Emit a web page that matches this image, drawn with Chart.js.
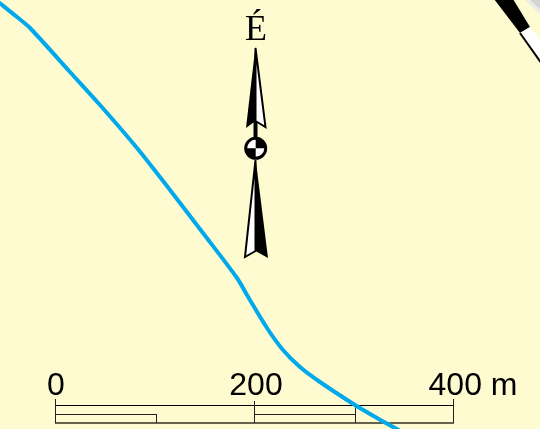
<!DOCTYPE html>
<html>
<head>
<meta charset="utf-8">
<title>Térkép</title>
<script src="https://cdn.jsdelivr.net/npm/chart.js@4/dist/chart.umd.min.js"></script>
<style>
  html, body { margin: 0; padding: 0; background: #fffbd0; }
  canvas { display: block; }
</style>
</head>
<body>
<canvas id="map" width="540" height="429"></canvas>
<script>
// river course, map units
const riverX = [-4, 17, 30, 70, 100, 137, 170, 203, 237, 247, 267, 283, 300, 320, 355, 377, 402];
const riverY = [0, 17, 28, 72, 105, 148, 190, 233, 278, 295, 328, 350, 367, 382, 405, 418, 432];

// scale bar
const scaleTicks = [0, 200, 400];
const scaleLabels = ['0', '200', '400 m'];
const scaleLabelX = [56, 256, 473];
const barTopLine = [[55, 405.5], [454, 405.5]];
const barBottomLine = [[55, 423], [454, 423]];
const barMidLeft = [[55, 414.5], [156, 414.5]];
const barMidRight = [[254, 414.5], [355, 414.5]];
const barTicks = [
  [[55.5, 399], [55.5, 423]],
  [[156.5, 414], [156.5, 423]],
  [[254.5, 401], [254.5, 423]],
  [[355.5, 405], [355.5, 423]],
  [[453.5, 399], [453.5, 423]]
];

// north arrow
const arrowUpBlack = [[255.5, 46], [246, 128], [255.5, 121]];
const arrowUpWhite = [[255.5, 48], [265.5, 127], [255.5, 121]];
const arrowDownWhite = [[255.5, 160], [245, 257], [255.5, 251]];
const arrowDownBlack = [[255.5, 158], [268, 258], [255.5, 251]];
const arrowShaft = [[255.5, 121], [255.5, 140]];
const compassCentre = [[255.7, 148.3]];
const compassTopRight = [[255.7, 148.3], [255.7, 138], [259.6, 138.8], [263, 141], [265.2, 144.4], [266, 148.3]];
const compassBottomLeft = [[255.7, 148.3], [255.7, 158.6], [251.8, 157.8], [248.4, 155.6], [246.2, 152.2], [245.4, 148.3]];

// railway in the top right corner
const railBlack = [[494, -1], [513, -1], [530, 27], [520, 33]];
const railWhite = [[520, 33], [530, 27], [542, 41], [542, 64]];
const railEdge = [[520, 33], [542, 64]];
const greyEdge = [[524, -1], [542, -1], [542, 16]];
const greyArea = [[529, -1], [542, -1], [542, 11]];

const xy = pts => pts.map(p => ({ x: p[0], y: p[1] }));
const poly = (pts, colour) => ({
  data: xy(pts.concat([pts[0]])),
  fill: 'shape',
  backgroundColor: colour,
  borderColor: colour,
  borderWidth: 0,
  pointRadius: 0,
  tension: 0
});
const outline = (pts, width, colour) => ({
  data: xy(pts),
  fill: false,
  borderColor: colour || '#000',
  borderWidth: width,
  pointRadius: 0,
  tension: 0
});
const stroked = (pts, colour, width) => Object.assign(poly(pts, colour), { borderColor: '#000', borderWidth: width });

const mapText = {
  id: 'mapText',
  afterDatasetsDraw(chart) {
    const { ctx, scales: { x, y } } = chart;
    ctx.save();
    ctx.fillStyle = '#000';
    ctx.textAlign = 'center';
    ctx.textBaseline = 'alphabetic';
    ctx.font = '32px "Liberation Sans"';
    scaleTicks.forEach((t, i) => {
      ctx.fillText(scaleLabels[i], x.getPixelForValue(scaleLabelX[i]), y.getPixelForValue(395));
    });
    ctx.font = '36px "Liberation Serif"';
    ctx.fillText('É', x.getPixelForValue(256), y.getPixelForValue(40));
    ctx.restore();
  }
};

// listed bottom to top, chart.js paints the first dataset last
const layers = [
  poly(greyEdge, '#ececE6'),
  poly(greyArea, '#d4d4d4'),
  poly(railBlack, '#000'),
  poly(railWhite, '#fff'),
  outline(railEdge, 2),
  outline(barTopLine, 1),
  outline(barBottomLine, 2, '#66634c'),
  outline(barMidLeft, 1, '#222'),
  outline(barMidRight, 1, '#222')
].concat(barTicks.map(t => outline(t, 1, '#222'))).concat([
  { data: xy(riverX.map((v, i) => [v, riverY[i]])), fill: false, borderColor: '#00a8ec', borderWidth: 4, pointRadius: 0, tension: 0.3 },
  outline(arrowShaft, 4),
  stroked(arrowUpWhite, '#fff', 2),
  poly(arrowUpBlack, '#000'),
  stroked(arrowDownWhite, '#fff', 2),
  poly(arrowDownBlack, '#000'),
  { data: xy(compassCentre), showLine: false, pointRadius: 10, pointBackgroundColor: '#fff', pointBorderColor: '#000', pointBorderWidth: 3 },
  poly(compassTopRight, '#000'),
  poly(compassBottomLeft, '#000')
]);

new Chart(document.getElementById('map'), {
  type: 'line',
  data: { datasets: layers.reverse() },
  options: {
    responsive: false,
    animation: false,
    layout: { padding: 0, autoPadding: false },
    plugins: { legend: { display: false }, tooltip: { enabled: false } },
    scales: {
      x: { type: 'linear', display: false, min: 0, max: 540 },
      y: { type: 'linear', display: false, min: 0, max: 429, reverse: true }
    }
  },
  plugins: [mapText]
});
</script>
</body>
</html>
